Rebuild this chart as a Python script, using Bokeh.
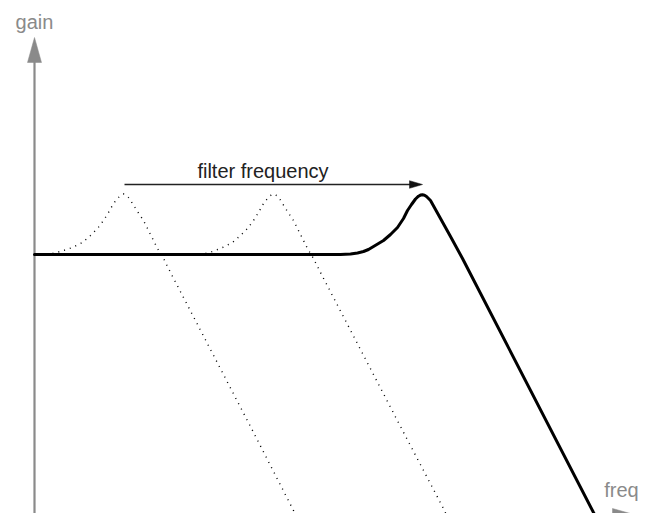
from bokeh.plotting import figure
from bokeh.models import Range1d
from bokeh.embed import file_html
from bokeh.resources import INLINE
from bokeh.core.properties import value

# ---- data (freq units right of the gain axis, gain units above the flat passband) ----
# current filter response (solid)
resp_freq = [0, 306, 316, 323, 329, 334, 339, 344, 349, 356, 363, 369, 373, 377, 381, 384,
             386, 388, 390, 392, 396, 401, 406, 416, 428, 559, 565]
resp_gain = [0, 0, 0.5, 1.5, 3, 5, 8, 11, 14, 20, 27, 36, 44, 50, 55.5, 58.3,
             59.4, 59.7, 59.3, 58, 54, 45, 36, 18, -4, -258, -269]

# earlier filter positions (dotted)
low_freq = [18, 26, 38, 48, 56, 63, 69, 74, 79, 83, 86, 89, 92, 95, 98, 103,
            109, 116, 123, 129, 136, 217, 259, 261]
low_gain = [1, 3, 7, 12, 19, 26, 34, 42, 51, 56, 59, 60.5, 59, 56, 51, 43,
            34, 20, 6, -4, -18, -174, -256, -261]

mid_freq = [171, 178, 188, 198, 206, 213, 219, 224, 229, 233, 236, 239, 242, 245,
            248, 253, 259, 266, 273, 279, 286, 367, 410, 412]
mid_gain = [1, 3, 7, 12, 19, 26, 34, 42, 51, 56, 59, 60.5, 59, 56, 51, 43,
            34, 20, 6, -4, -18, -174, -256, -261]

# "filter frequency" sweep arrow
sweep_start = [90, 70]
sweep_tip = [388, 70]

# axes
gain_axis_bottom = -259
gain_axis_tip = 217
freq_axis_level = -261
freq_axis_tip = 603

labels = ["gain", "filter frequency", "freq"]
label_x = [0, 228.5, 587]
label_y = [233, 84, -235]
label_color = ["#8a8a8a", "#222222", "#8a8a8a"]

# ---- styles ----
AXIS_COLOR = "#8a8a8a"
HEAD_LEN, HEAD_HALF = 25, 7
SWEEP_HEAD_LEN, SWEEP_HEAD_HALF = 13, 3.8

p = figure(width=648, height=513,
           x_range=Range1d(-34, 614), y_range=Range1d(-259, 254),
           output_backend="svg", toolbar_location=None,
           x_axis_location=None, y_axis_location=None,
           min_border=0, min_border_left=0, min_border_right=0,
           min_border_top=0, min_border_bottom=0)
p.grid.visible = False
p.outline_line_color = None
p.background_fill_color = "white"
p.border_fill_color = "white"

# gain axis (vertical)
p.line([0, 0], [gain_axis_bottom - 5, gain_axis_tip - HEAD_LEN + 1],
       line_color=AXIS_COLOR, line_width=2.2)
p.patch([-HEAD_HALF, 0, HEAD_HALF],
        [gain_axis_tip - HEAD_LEN, gain_axis_tip, gain_axis_tip - HEAD_LEN],
        fill_color=AXIS_COLOR, line_color=AXIS_COLOR, line_width=0.5)

# freq axis (horizontal, at the very bottom)
p.line([0, freq_axis_tip - HEAD_LEN + 1], [freq_axis_level, freq_axis_level],
       line_color=AXIS_COLOR, line_width=2.2)
p.patch([freq_axis_tip - HEAD_LEN, freq_axis_tip, freq_axis_tip - HEAD_LEN],
        [freq_axis_level - HEAD_HALF, freq_axis_level, freq_axis_level + HEAD_HALF],
        fill_color=AXIS_COLOR, line_color=AXIS_COLOR, line_width=0.5)

# dotted earlier responses
for fx, gy in ((low_freq, low_gain), (mid_freq, mid_gain)):
    p.line(fx, gy, line_color="#000000", line_width=1.4, line_dash="1 5")

# solid response
p.line(resp_freq, resp_gain, line_color="black", line_width=3,
       line_join="round", line_cap="round")

# sweep arrow
p.line([sweep_start[0], sweep_tip[0] - SWEEP_HEAD_LEN + 1],
       [sweep_start[1], sweep_tip[1]], line_color="#222222", line_width=1.3)
p.patch([sweep_tip[0] - SWEEP_HEAD_LEN, sweep_tip[0], sweep_tip[0] - SWEEP_HEAD_LEN],
        [sweep_tip[1] - SWEEP_HEAD_HALF, sweep_tip[1], sweep_tip[1] + SWEEP_HEAD_HALF],
        fill_color="#111111", line_color="#111111", line_width=0.5)

# labels
p.text(x=label_x, y=label_y, text=labels, text_color=label_color,
       text_font=value("Liberation Sans"), text_font_size="20px",
       text_align="center", text_baseline="alphabetic")

open("out.html", "w").write(file_html(p, INLINE))
